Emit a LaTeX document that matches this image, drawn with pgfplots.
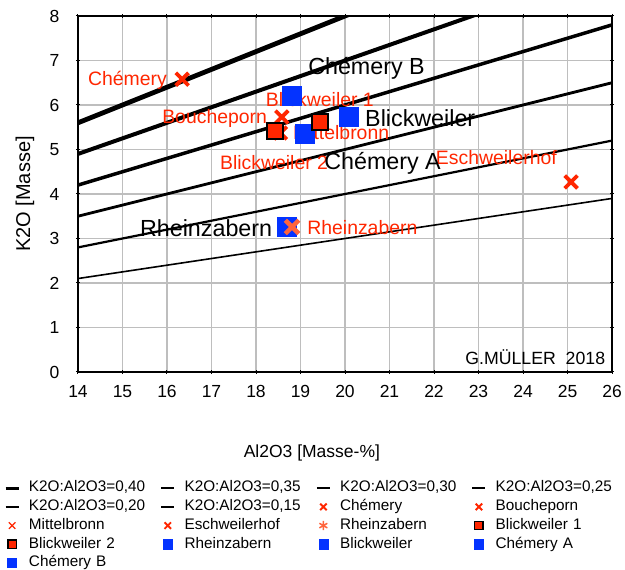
\documentclass[border=0pt]{standalone}
\usepackage{fontspec}
\setmainfont{Liberation Sans}
\usepackage{pgfplots}
\pgfplotsset{compat=1.18}

\definecolor{myred}{RGB}{255,38,0}
\definecolor{myblue}{RGB}{4,51,255}
\definecolor{myorange}{RGB}{255,100,60}
\definecolor{gridgray}{RGB}{190,190,190}

\newcommand{\redfont}{\fontsize{19.4bp}{22bp}\selectfont}
\newcommand{\blackfont}{\fontsize{23.3bp}{26bp}\selectfont}

\begin{document}
\begin{tikzpicture}
\begin{axis}[
  name=ax,
  width=534bp, height=356bp, scale only axis,
  xmin=14, xmax=26, ymin=0, ymax=8,
  xtick={14,...,26}, ytick={0,...,8},
  grid=major, grid style={line width=1.2bp, color=gridgray},
  axis line style={line width=1.5bp, black},
  tick style={black, line width=1bp}, major tick length=4bp,
  tick align=center,
  tick label style={font=\fontsize{17.5bp}{20bp}\selectfont},
  /pgf/number format/assume math mode=true,
  xticklabel style={yshift=-8bp},
  yticklabel style={xshift=-13bp},
  xlabel={Al2O3 [Masse-\%]},
  xlabel style={at={(axis description cs:0.438,-0.2275)}, anchor=center, font=\fontsize{17.5bp}{20bp}\selectfont},
  ylabel={K2O [Masse]},
  ylabel style={at={(axis description cs:-0.0993,0.5)}, anchor=center, font=\fontsize{20bp}{24bp}\selectfont},
  legend columns=4,
  legend cell align=left,
  legend style={at={(axis description cs:-0.1386,-0.306)}, anchor=north west, draw=none, fill=none, inner sep=0pt,
    font=\fontsize{15.3bp}{17bp}\selectfont,
    nodes={inner sep=0pt, text height=10.8bp, text depth=3.3bp},
    row sep=4.6bp,
    /tikz/every odd column/.append style={column sep=9bp},
    /tikz/every even column/.append style={text width=131bp}},
  legend image code/.code={\draw[mark repeat=2,mark phase=2,#1] plot coordinates {(0bp,0bp) (6.5bp,0bp) (13bp,0bp)};},
]
% ---------- legend entries (in reference order) ----------
\addlegendimage{black, line width=2.8bp}
\addlegendentry{K2O:Al2O3=0,40}
\addlegendimage{black, line width=2.6bp}
\addlegendentry{K2O:Al2O3=0,35}
\addlegendimage{black, line width=2.6bp}
\addlegendentry{K2O:Al2O3=0,30}
\addlegendimage{black, line width=2.5bp}
\addlegendentry{K2O:Al2O3=0,25}
\addlegendimage{black, line width=2.3bp}
\addlegendentry{K2O:Al2O3=0,20}
\addlegendimage{black, line width=1.3bp}
\addlegendentry{K2O:Al2O3=0,15}
\addlegendimage{only marks, mark=x, myred, mark size=4.6bp, line width=1.9bp}
\addlegendentry{Chémery}
\addlegendimage{only marks, mark=x, myred, mark size=4.6bp, line width=1.9bp}
\addlegendentry{Boucheporn}
\addlegendimage{only marks, mark=x, myred, mark size=4.6bp, line width=1.2bp}
\addlegendentry{Mittelbronn}
\addlegendimage{only marks, mark=x, myred, mark size=4.6bp, line width=1.9bp}
\addlegendentry{Eschweilerhof}
\addlegendimage{only marks, mark=asterisk, myorange, mark size=4.6bp, line width=1.5bp}
\addlegendentry{Rheinzabern}
\addlegendimage{only marks, mark=square*, mark options={fill=myred, draw=black}, mark size=4.2bp, line width=1.4bp}
\addlegendentry{Blickweiler 1}
\addlegendimage{only marks, mark=square*, mark options={fill=myred, draw=black}, mark size=4.2bp, line width=1.4bp}
\addlegendentry{Blickweiler 2}
\addlegendimage{only marks, mark=square*, myblue, mark size=4.6bp}
\addlegendentry{Rheinzabern}
\addlegendimage{only marks, mark=square*, myblue, mark size=4.6bp}
\addlegendentry{Blickweiler}
\addlegendimage{only marks, mark=square*, myblue, mark size=4.6bp}
\addlegendentry{Chémery A}
\addlegendimage{only marks, mark=square*, myblue, mark size=4.6bp}
\addlegendentry{Chémery B}

% ---------- ratio lines ----------
\addplot[black, line width=4.8bp, forget plot] coordinates {(14,5.6) (26,10.4)};
\addplot[black, line width=4bp, forget plot] coordinates {(14,4.9) (26,9.1)};
\addplot[black, line width=3.5bp, forget plot] coordinates {(14,4.2) (26,7.8)};
\addplot[black, line width=2.8bp, forget plot] coordinates {(14,3.5) (26,6.5)};
\addplot[black, line width=2.2bp, forget plot] coordinates {(14,2.8) (26,5.2)};
\addplot[black, line width=1.6bp, forget plot] coordinates {(14,2.1) (26,3.9)};

% ---------- blue squares ----------
\addplot[only marks, mark=square*, myblue, mark size=9.5bp, forget plot] coordinates {(18.70,3.26)};
\addplot[only marks, mark=square*, myblue, mark size=9.5bp, forget plot] coordinates {(20.09,5.73)};
\addplot[only marks, mark=square*, myblue, mark size=9.5bp, forget plot] coordinates {(19.10,5.35)};
\addplot[only marks, mark=square*, myblue, mark size=9.5bp, forget plot] coordinates {(18.81,6.22)};

% ---------- red crosses ----------
\addplot[only marks, mark=x, myred, mark size=9bp, line width=3.8bp, forget plot] coordinates {(16.34,6.58)};
\addplot[only marks, mark=x, myred, mark size=9bp, line width=3.8bp, forget plot] coordinates {(18.58,5.73)};
\addplot[only marks, mark=x, myred, mark size=9bp, line width=3.8bp, forget plot] coordinates {(18.55,5.37)};
\addplot[only marks, mark=x, myred, mark size=9bp, line width=3.8bp, forget plot] coordinates {(25.08,4.27)};
\addplot[only marks, mark=x, myorange, mark size=9.5bp, line width=4.5bp, forget plot] coordinates {(18.81,3.26)};

% ---------- red squares ----------
\addplot[only marks, mark=square*, mark options={fill=myred, draw=black}, mark size=8bp, line width=1.6bp, forget plot] coordinates {(19.44,5.62)};
\addplot[only marks, mark=square*, mark options={fill=myred, draw=black}, mark size=8bp, line width=1.6bp, forget plot] coordinates {(18.43,5.42)};

% ---------- labels ----------
\node[anchor=east, inner sep=0pt, text=myred, font=\redfont] at (axis cs:16.0,6.56) {Chémery};
\node[anchor=east, inner sep=0pt, text=myred, font=\redfont] at (axis cs:18.25,5.69) {Boucheporn};
\node[anchor=west, inner sep=0pt, text=myred, font=\redfont] at (axis cs:18.22,6.13) {Blickweiler 1};
\node[anchor=west, inner sep=0pt, text=myred, font=\redfont] at (axis cs:18.83,5.39) {Mittelbronn};
\node[anchor=west, inner sep=0pt, text=myred, font=\redfont] at (axis cs:17.19,4.70) {Blickweiler 2};
\node[anchor=west, inner sep=0pt, text=myred, font=\redfont] at (axis cs:22.04,4.81) {Eschweilerhof};
\node[anchor=west, inner sep=0pt, text=myred, font=\redfont] at (axis cs:19.15,3.24) {Rheinzabern};
\node[anchor=west, inner sep=0pt, text=black, font=\blackfont] at (axis cs:19.17,6.83) {Chémery B};
\node[anchor=west, inner sep=0pt, text=black, font=\blackfont] at (axis cs:20.45,5.71) {Blickweiler};
\node[anchor=west, inner sep=0pt, text=black, font=\blackfont] at (axis cs:19.53,4.70) {Chémery A};
\node[anchor=west, inner sep=0pt, text=black, font=\blackfont] at (axis cs:15.39,3.24) {Rheinzabern};
\node[anchor=east, inner sep=0pt, text=black, font=\fontsize{17.7bp}{20bp}\selectfont] at (axis cs:25.85,0.337) {G.MÜLLER\ \ 2018};
\end{axis}
\pgfresetboundingbox
\path ([shift={(-78bp,-198bp)}]ax.south west) rectangle ([shift={(13bp,16bp)}]ax.north east);
\end{tikzpicture}
\end{document}
